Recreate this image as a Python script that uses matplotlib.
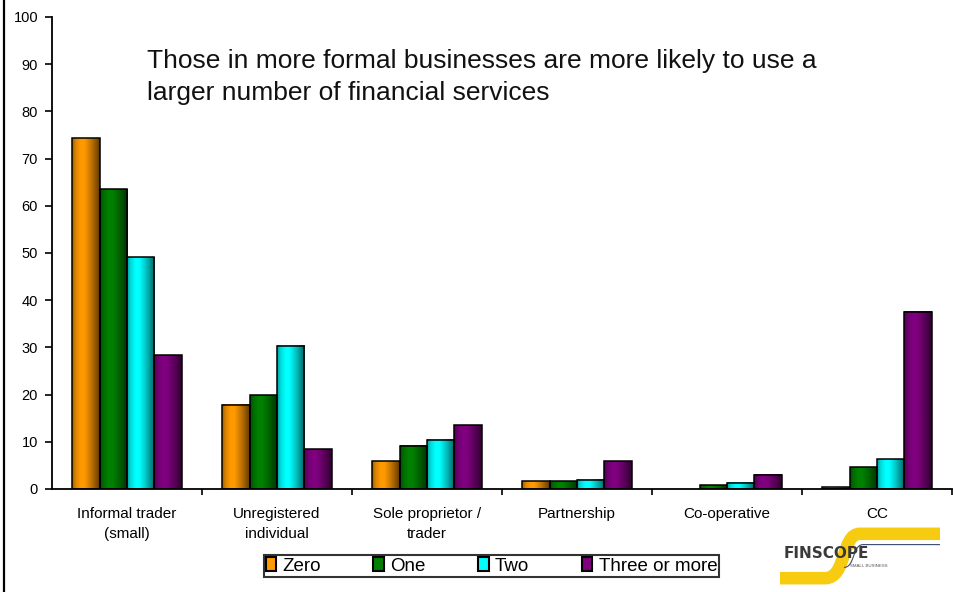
import numpy as np
import matplotlib
matplotlib.use("Agg")
import matplotlib.pyplot as plt
from matplotlib.colors import to_rgb
from matplotlib.patches import Rectangle, PathPatch
from matplotlib.path import Path
from matplotlib.lines import Line2D

# ---- data -------------------------------------------------------------
categories = ["Informal trader\n(small)", "Unregistered\nindividual",
              "Sole proprietor /\ntrader", "Partnership", "Co-operative", "CC"]
series_names = ["Zero", "One", "Two", "Three or more"]
zero_vals = [74.3, 17.8, 5.9, 1.6, 0.0, 0.4]
one_vals = [63.5, 19.9, 9.2, 1.6, 0.8, 4.6]
two_vals = [49.1, 30.4, 10.4, 2.0, 1.3, 6.3]
three_vals = [28.3, 8.4, 13.5, 5.9, 3.0, 37.6]
y_ticks = [0, 10, 20, 30, 40, 50, 60, 70, 80, 90, 100]
headline = ("Those in more formal businesses are more likely to use a\n"
            "larger number of financial services")

series_vals = [zero_vals, one_vals, two_vals, three_vals]
colors = ["#FF9900", "#008000", "#00FFFF", "#800080"]

plt.rcParams["font.family"] = ["Liberation Sans", "DejaVu Sans"]

W, H = 954, 592
fig = plt.figure(figsize=(W / 100, H / 100), dpi=100)
ax = fig.add_axes([52 / W, 1 - 489 / H, 900 / W, (489 - 17) / H])

x = np.arange(len(categories))
bw = 0.183

# horizontal shading profile across each bar (cylinder look)
t = np.linspace(0, 1, 64)
shade = np.interp(t, [0, 0.12, 0.3, 0.45, 0.7, 1.0], [0.62, 0.85, 1.0, 1.0, 0.75, 0.38])

for i, (vals, col) in enumerate(zip(series_vals, colors)):
    offs = (i - 1.5) * bw
    lw = [0 if v == 0 else 1.1 for v in vals]
    bars = ax.bar(x + offs, vals, width=bw, facecolor="none",
                  edgecolor="black", linewidth=lw, zorder=3,
                  label=series_names[i])
    base = np.array(to_rgb(col))
    strip = (shade[:, None] * base[None, :])[None, :, :]
    for b in bars:
        h = b.get_height()
        if h <= 0:
            continue
        x0 = b.get_x()
        ax.imshow(strip, extent=(x0, x0 + b.get_width(), 0, h),
                  aspect="auto", interpolation="bilinear", zorder=2)

ax.set_xlim(-0.5, len(categories) - 0.5)
ax.set_ylim(0, 100)
ax.set_yticks(y_ticks)
ax.set_yticklabels([str(v) for v in y_ticks], fontsize=10.5)
ax.tick_params(axis="y", direction="out", length=5, width=1.2, pad=5)

# boundaries between categories carry the tick marks; labels sit at the centres
ax.set_xticks(np.arange(len(categories)) + 0.5)
ax.set_xticklabels([])
ax.tick_params(axis="x", which="major", direction="out", length=4, width=1.2)
ax.set_xticks(x, minor=True)
ax.set_xticklabels(categories, minor=True, fontsize=11, linespacing=1.5)
ax.tick_params(axis="x", which="minor", length=0, pad=13)

for s in ["top", "right"]:
    ax.spines[s].set_visible(False)
for s in ["left", "bottom"]:
    ax.spines[s].set_linewidth(1.3)

ax.text(147 / W, 1 - 77 / H, headline, transform=fig.transFigure,
        fontsize=19, va="center", ha="left", linespacing=1.45,
        color="#111111")

# legend
handles = [Rectangle((0, 0), 1, 1, facecolor=c, edgecolor="black", linewidth=1.5)
           for c in colors]
leg = fig.legend(handles, series_names, loc="center",
                 bbox_to_anchor=(491.5 / W, 1 - 566 / H), ncol=4,
                 fontsize=13.5, frameon=True, fancybox=False, edgecolor="black",
                 handlelength=0.55, handleheight=0.75, handletextpad=0.35,
                 columnspacing=2.8, borderpad=0.1, borderaxespad=0)
leg.get_frame().set_linewidth(1.5)

# page border on the left
fig.add_artist(Line2D([4 / W, 4 / W], [0, 1], color="black", linewidth=1.6,
                      transform=fig.transFigure))

# FinScope logo: yellow S-swoosh with the word mark
lg = fig.add_axes([780 / W, 1 - 586 / H, 160 / W, 60 / H])
lg.set_xlim(0, 1)
lg.set_ylim(0, 1)
lg.axis("off")
yellow = "#F7CB10"
swoosh = Path([(1.05, 0.87), (0.50, 0.87), (0.38, 0.87), (0.42, 0.13),
               (0.28, 0.13), (-0.05, 0.13)],
              [Path.MOVETO, Path.LINETO, Path.CURVE4, Path.CURVE4,
               Path.CURVE4, Path.LINETO])
lg.add_patch(PathPatch(swoosh, facecolor="none", edgecolor=yellow,
                       linewidth=9, capstyle="butt"))
edge = Path([(1.0, 0.69), (0.52, 0.69), (0.45, 0.69), (0.47, 0.31),
             (0.40, 0.31)],
            [Path.MOVETO, Path.LINETO, Path.CURVE4, Path.CURVE4, Path.CURVE4])
lg.add_patch(PathPatch(edge, facecolor="none", edgecolor="#3A4A70",
                       linewidth=0.8))
lg.text(0.02, 0.54, "FINSCOPE", fontsize=11, fontweight="bold",
        color="#3A3A3A", va="center", ha="left", family=["DejaVu Sans"])
lg.text(0.44, 0.33, "SMALL BUSINESS", fontsize=3.2, color="#555555",
        va="center", ha="left")

fig.savefig("out.png", dpi=100)
